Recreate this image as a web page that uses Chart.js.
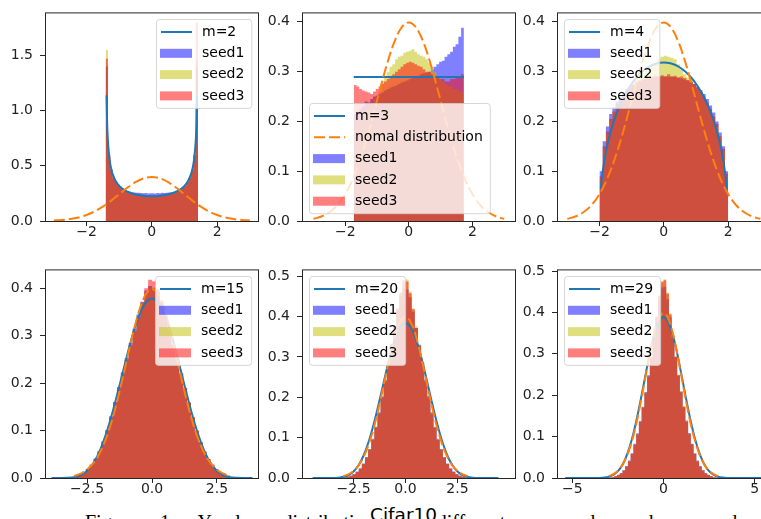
<!DOCTYPE html>
<html>
<head>
<meta charset="utf-8">
<script src="https://cdn.jsdelivr.net/npm/chart.js@4.4.0/dist/chart.umd.min.js"></script>
<style>
html, body { margin: 0; padding: 0; background: #fff; }
body { width: 761px; height: 519px; overflow: hidden; position: relative; }
canvas.panel { position: absolute; }
#caption { position: absolute; left: 85px; top: 512px; width: 665px; font: 20px "Liberation Serif", serif; line-height: 20px; white-space: nowrap; text-align: justify; text-align-last: justify; color: #000; }
#title { position: absolute; left: 366px; top: 506px; font: 18.5px "DejaVu Sans", sans-serif; line-height: 18.5px; background: #fff; padding: 0 4px; color: #000; }
</style>
</head>
<body>
<div id="caption">Figure 1: Y-value distribution of different m and random seeds.</div>
<div id="title">Cifar10</div>
<script>
// normal distribution (dashed orange, same in every panel)
const normX = [-3, -2.75, -2.5, -2.25, -2, -1.75, -1.5, -1.25, -1, -0.75, -0.5, -0.25, 0, 0.25, 0.5, 0.75, 1, 1.25, 1.5, 1.75, 2, 2.25, 2.5, 2.75, 3];
const normY = [0.0044, 0.0091, 0.0175, 0.0317, 0.0540, 0.0863, 0.1295, 0.1826, 0.2420, 0.3011, 0.3521, 0.3867, 0.3989, 0.3867, 0.3521, 0.3011, 0.2420, 0.1826, 0.1295, 0.0863, 0.0540, 0.0317, 0.0175, 0.0091, 0.0044];

// m curves
const m2X = [-1.386, -1.37, -1.35, -1.3, -1.25, -1.2, -1.1, -1.0, -0.9, -0.8, -0.6, -0.4, -0.2, 0, 0.2, 0.4, 0.6, 0.8, 0.9, 1.0, 1.1, 1.2, 1.25, 1.3, 1.35, 1.37, 1.386];
const m2Y = [1.14, 0.907, 0.755, 0.572, 0.481, 0.425, 0.358, 0.318, 0.292, 0.273, 0.249, 0.235, 0.227, 0.225, 0.227, 0.235, 0.249, 0.273, 0.292, 0.318, 0.358, 0.425, 0.481, 0.572, 0.755, 0.907, 1.14];
const m3X = [-1.732, 1.732];
const m3Y = [0.289, 0.289];
const m4X = [-1.96, -1.9, -1.8, -1.7, -1.6, -1.5, -1.4, -1.2, -1.0, -0.8, -0.6, -0.4, -0.2, 0, 0.2, 0.4, 0.6, 0.8, 1.0, 1.2, 1.4, 1.5, 1.6, 1.7, 1.8, 1.9, 1.96];
const m4Y = [0.064, 0.0994, 0.1388, 0.1677, 0.191, 0.2105, 0.2273, 0.2546, 0.2757, 0.2917, 0.3037, 0.3119, 0.3167, 0.3183, 0.3167, 0.3119, 0.3037, 0.2917, 0.2757, 0.2546, 0.2273, 0.2105, 0.191, 0.1677, 0.1388, 0.0994, 0.064];
const m15X = [-3.87, -3.75, -3.5, -3.25, -3, -2.75, -2.5, -2.25, -2, -1.75, -1.5, -1.25, -1, -0.75, -0.5, -0.25, 0, 0.25, 0.5, 0.75, 1, 1.25, 1.5, 1.75, 2, 2.25, 2.5, 2.75, 3, 3.25, 3.5, 3.75, 3.87];
const m15Y = [0, 0, 0, 0.0003, 0.0016, 0.0056, 0.0149, 0.0320, 0.0589, 0.0962, 0.1428, 0.1957, 0.2503, 0.3010, 0.3423, 0.3692, 0.3786, 0.3692, 0.3423, 0.3010, 0.2503, 0.1957, 0.1428, 0.0962, 0.0589, 0.0320, 0.0149, 0.0056, 0.0016, 0.0003, 0, 0, 0];
const m20X = [-4.47, -4, -3.75, -3.5, -3.25, -3, -2.75, -2.5, -2.25, -2, -1.75, -1.5, -1.25, -1, -0.75, -0.5, -0.25, 0, 0.25, 0.5, 0.75, 1, 1.25, 1.5, 1.75, 2, 2.25, 2.5, 2.75, 3, 3.25, 3.5, 3.75, 4, 4.47];
const m20Y = [0, 0, 0, 0.0001, 0.0007, 0.0024, 0.0068, 0.0159, 0.0321, 0.0576, 0.0934, 0.1392, 0.1922, 0.2482, 0.3012, 0.3449, 0.3737, 0.3838, 0.3737, 0.3449, 0.3012, 0.2482, 0.1922, 0.1392, 0.0934, 0.0576, 0.0321, 0.0159, 0.0068, 0.0024, 0.0007, 0.0001, 0, 0, 0];
const m29X = [-5.39, -4.5, -4, -3.75, -3.5, -3.25, -3, -2.75, -2.5, -2.25, -2, -1.75, -1.5, -1.25, -1, -0.75, -0.5, -0.25, 0, 0.25, 0.5, 0.75, 1, 1.25, 1.5, 1.75, 2, 2.25, 2.5, 2.75, 3, 3.25, 3.5, 3.75, 4, 4.5, 5.39];
const m29Y = [0, 0, 0, 0.0001, 0.0003, 0.0011, 0.0031, 0.0077, 0.0166, 0.0321, 0.0564, 0.0910, 0.1360, 0.1891, 0.2462, 0.3012, 0.3471, 0.3778, 0.3885, 0.3778, 0.3471, 0.3012, 0.2462, 0.1891, 0.1360, 0.0910, 0.0564, 0.0321, 0.0166, 0.0077, 0.0031, 0.0011, 0.0003, 0.0001, 0, 0, 0];

// histogram ranges [lo, hi] and bar heights per seed
const range1 = [-1.414, 1.414];
const h1s1 = [1.40, 0.59, 0.47, 0.40, 0.36, 0.33, 0.31, 0.295, 0.28, 0.272, 0.265, 0.26, 0.258, 0.255, 0.256, 0.253, 0.252, 0.254, 0.25, 0.251, 0.252, 0.25, 0.253, 0.252, 0.255, 0.254, 0.256, 0.258, 0.26, 0.263, 0.268, 0.275, 0.285, 0.30, 0.32, 0.35, 0.39, 0.46, 0.59, 1.38];
const h1s2 = [1.55, 0.61, 0.47, 0.40, 0.355, 0.325, 0.305, 0.29, 0.275, 0.265, 0.255, 0.25, 0.245, 0.24, 0.236, 0.233, 0.231, 0.229, 0.228, 0.227, 0.227, 0.228, 0.229, 0.231, 0.233, 0.236, 0.24, 0.245, 0.25, 0.255, 0.265, 0.275, 0.29, 0.305, 0.325, 0.355, 0.40, 0.47, 0.61, 1.45];
const h1s3 = [1.47, 0.60, 0.46, 0.39, 0.35, 0.32, 0.30, 0.282, 0.27, 0.26, 0.25, 0.245, 0.24, 0.235, 0.23, 0.228, 0.226, 0.224, 0.223, 0.222, 0.222, 0.223, 0.224, 0.226, 0.228, 0.23, 0.235, 0.24, 0.245, 0.25, 0.26, 0.27, 0.28, 0.30, 0.32, 0.35, 0.39, 0.46, 0.60, 1.80];

const range2 = [-1.732, 1.732];
const h2s1 = [0.215, 0.22, 0.225, 0.23, 0.24, 0.238, 0.245, 0.25, 0.252, 0.255, 0.258, 0.262, 0.265, 0.268, 0.27, 0.272, 0.275, 0.278, 0.28, 0.282, 0.285, 0.288, 0.29, 0.292, 0.295, 0.297, 0.298, 0.30, 0.305, 0.31, 0.315, 0.32, 0.322, 0.33, 0.335, 0.34, 0.35, 0.355, 0.37, 0.388];
const h2s2 = [0.20, 0.205, 0.21, 0.22, 0.225, 0.23, 0.235, 0.245, 0.25, 0.26, 0.28, 0.29, 0.30, 0.31, 0.315, 0.325, 0.33, 0.332, 0.338, 0.34, 0.342, 0.345, 0.34, 0.335, 0.332, 0.33, 0.325, 0.318, 0.31, 0.30, 0.29, 0.285, 0.28, 0.275, 0.27, 0.27, 0.265, 0.265, 0.26, 0.26];
const h2s3 = [0.273, 0.27, 0.265, 0.262, 0.26, 0.258, 0.255, 0.26, 0.265, 0.27, 0.275, 0.28, 0.285, 0.29, 0.295, 0.30, 0.305, 0.31, 0.315, 0.318, 0.32, 0.318, 0.315, 0.312, 0.31, 0.305, 0.30, 0.30, 0.295, 0.29, 0.29, 0.285, 0.285, 0.28, 0.28, 0.285, 0.285, 0.29, 0.29, 0.295];

const range3 = [-2, 2];
const h3s1 = [0.10, 0.16, 0.19, 0.215, 0.228, 0.24, 0.25, 0.258, 0.265, 0.27, 0.274, 0.278, 0.28, 0.283, 0.285, 0.287, 0.288, 0.29, 0.29, 0.29, 0.291, 0.29, 0.29, 0.289, 0.288, 0.286, 0.284, 0.282, 0.279, 0.275, 0.27, 0.263, 0.255, 0.245, 0.232, 0.218, 0.2, 0.178, 0.15, 0.10];
const h3s2 = [0.085, 0.145, 0.175, 0.20, 0.218, 0.232, 0.243, 0.253, 0.262, 0.27, 0.278, 0.285, 0.292, 0.298, 0.305, 0.31, 0.315, 0.32, 0.325, 0.33, 0.332, 0.33, 0.328, 0.325, 0.315, 0.305, 0.295, 0.288, 0.282, 0.275, 0.268, 0.26, 0.248, 0.236, 0.222, 0.207, 0.19, 0.168, 0.14, 0.09];
const h3s3 = [0.09, 0.15, 0.18, 0.205, 0.22, 0.235, 0.245, 0.255, 0.262, 0.268, 0.273, 0.278, 0.282, 0.285, 0.288, 0.29, 0.29, 0.292, 0.29, 0.293, 0.29, 0.295, 0.29, 0.292, 0.288, 0.29, 0.287, 0.283, 0.28, 0.275, 0.268, 0.26, 0.25, 0.238, 0.225, 0.21, 0.195, 0.17, 0.145, 0.095];

const range4 = [-3, 3];
const h4s1 = [0.005, 0.008, 0.013, 0.019, 0.028, 0.041, 0.057, 0.077, 0.101, 0.13, 0.16, 0.192, 0.223, 0.253, 0.285, 0.315, 0.345, 0.372, 0.395, 0.405, 0.40, 0.392, 0.368, 0.34, 0.31, 0.28, 0.25, 0.22, 0.19, 0.158, 0.127, 0.099, 0.075, 0.055, 0.04, 0.028, 0.019, 0.012, 0.008, 0.005];
const h4s2 = [0.006, 0.009, 0.013, 0.02, 0.029, 0.041, 0.057, 0.077, 0.10, 0.128, 0.159, 0.19, 0.22, 0.25, 0.28, 0.31, 0.34, 0.368, 0.39, 0.40, 0.402, 0.39, 0.37, 0.342, 0.312, 0.282, 0.252, 0.222, 0.191, 0.16, 0.129, 0.10, 0.076, 0.056, 0.04, 0.028, 0.019, 0.013, 0.009, 0.006];
const h4s3 = [0.005, 0.008, 0.012, 0.019, 0.028, 0.04, 0.056, 0.076, 0.10, 0.128, 0.16, 0.19, 0.22, 0.25, 0.28, 0.31, 0.34, 0.37, 0.40, 0.418, 0.415, 0.398, 0.372, 0.342, 0.312, 0.281, 0.251, 0.221, 0.19, 0.159, 0.128, 0.10, 0.076, 0.056, 0.04, 0.028, 0.019, 0.012, 0.008, 0.005];

const range5 = [-3, 3];
const h5s1 = [0.001, 0.003, 0.006, 0.01, 0.016, 0.024, 0.036, 0.052, 0.072, 0.097, 0.127, 0.163, 0.202, 0.243, 0.288, 0.332, 0.375, 0.415, 0.45, 0.47, 0.468, 0.448, 0.412, 0.372, 0.33, 0.287, 0.244, 0.203, 0.163, 0.127, 0.097, 0.072, 0.052, 0.036, 0.024, 0.016, 0.01, 0.006, 0.003, 0.001];
const h5s2 = [0.001, 0.003, 0.005, 0.009, 0.015, 0.023, 0.035, 0.05, 0.071, 0.096, 0.126, 0.161, 0.20, 0.241, 0.285, 0.33, 0.376, 0.42, 0.458, 0.485, 0.492, 0.462, 0.42, 0.376, 0.33, 0.285, 0.242, 0.202, 0.162, 0.126, 0.096, 0.071, 0.051, 0.035, 0.023, 0.015, 0.009, 0.005, 0.003, 0.001];
const h5s3 = [0.001, 0.003, 0.005, 0.009, 0.015, 0.023, 0.035, 0.05, 0.07, 0.095, 0.125, 0.16, 0.20, 0.24, 0.285, 0.33, 0.375, 0.42, 0.46, 0.49, 0.487, 0.458, 0.418, 0.372, 0.328, 0.283, 0.24, 0.20, 0.16, 0.124, 0.094, 0.07, 0.05, 0.035, 0.023, 0.015, 0.009, 0.005, 0.003, 0.001];

const range6 = [-3, 3];
const h6s1 = [0.001, 0.002, 0.005, 0.008, 0.012, 0.019, 0.029, 0.042, 0.06, 0.083, 0.108, 0.138, 0.172, 0.208, 0.248, 0.292, 0.338, 0.385, 0.43, 0.46, 0.462, 0.432, 0.388, 0.34, 0.293, 0.249, 0.209, 0.173, 0.139, 0.109, 0.083, 0.06, 0.042, 0.029, 0.019, 0.012, 0.008, 0.005, 0.002, 0.001];
const h6s2 = [0.001, 0.002, 0.004, 0.007, 0.011, 0.018, 0.027, 0.04, 0.058, 0.08, 0.106, 0.136, 0.17, 0.206, 0.246, 0.291, 0.34, 0.39, 0.442, 0.472, 0.48, 0.448, 0.398, 0.345, 0.295, 0.25, 0.21, 0.173, 0.138, 0.107, 0.081, 0.059, 0.041, 0.028, 0.018, 0.011, 0.007, 0.004, 0.002, 0.001];
const h6s3 = [0.001, 0.002, 0.004, 0.007, 0.011, 0.018, 0.027, 0.04, 0.058, 0.08, 0.105, 0.135, 0.17, 0.205, 0.245, 0.29, 0.34, 0.39, 0.44, 0.475, 0.478, 0.445, 0.395, 0.342, 0.292, 0.247, 0.207, 0.171, 0.136, 0.106, 0.081, 0.058, 0.04, 0.027, 0.018, 0.011, 0.007, 0.004, 0.002, 0.001];

// axis ticks
const xTicksA = [-2, 0, 2];
const xTicksB = [-2.5, 0, 2.5];
const xTicksC = [-5, 0, 5];
const yTicks1 = [0, 0.5, 1.0, 1.5];
const yTicks04 = [0, 0.1, 0.2, 0.3, 0.4];
const yTicks05 = [0, 0.1, 0.2, 0.3, 0.4, 0.5];

const mLabels = ['m=2', 'm=3', 'm=4', 'm=15', 'm=20', 'm=29'];
const seedLabels = ['seed1', 'seed2', 'seed3'];
const normLabel = 'nomal distribution';

const BLUE = '#1f77b4', ORANGE = '#ff7f0e';
const SEED_COLORS = ['rgba(0,0,255,0.5)', 'rgba(191,191,0,0.5)', 'rgba(255,0,0,0.5)'];

const panels = [
  {box: [45, 7, 213, 214], xr: [-3.27, 3.25], yr: [0, 1.89], xt: xTicksA, xd: 0, yt: yTicks1,
   cx: m2X, cy: m2Y, range: range1, h: [h1s1, h1s2, h1s3], leg: 'ur', showNorm: false},
  {box: [302, 7, 213, 214], xr: [-3.36, 3.34], yr: [0, 0.419], xt: xTicksA, xd: 0, yt: yTicks04,
   cx: m3X, cy: m3Y, range: range2, h: [h2s1, h2s2, h2s3], leg: 'll', showNorm: true},
  {box: [557, 7, 213, 214], xr: [-3.32, 3.3], yr: [0, 0.419], xt: xTicksA, xd: 0, yt: yTicks04,
   cx: m4X, cy: m4Y, range: range3, h: [h3s1, h3s2, h3s3], leg: 'ul', showNorm: false},
  {box: [45, 264, 213, 214], xr: [-4.12, 4.08], yr: [0, 0.44], xt: xTicksB, xd: 1, yt: yTicks04,
   cx: m15X, cy: m15Y, range: range4, h: [h4s1, h4s2, h4s3], leg: 'ur', showNorm: false},
  {box: [302, 264, 213, 214], xr: [-4.98, 5.27], yr: [0, 0.517], xt: xTicksB, xd: 1, yt: yTicks05,
   cx: m20X, cy: m20Y, range: range5, h: [h5s1, h5s2, h5s3], leg: 'ul', showNorm: false},
  {box: [557, 264, 213, 214], xr: [-5.84, 5.84], yr: [0, 0.504], xt: xTicksC, xd: 0, yt: yTicks05,
   cx: m29X, cy: m29Y, range: range6, h: [h6s1, h6s2, h6s3], leg: 'ul', showNorm: false}
];

function fmt(v, d) {
  return Number(v).toFixed(d).replace('-', '\u2212');
}

// each height holds from its left edge to the next edge (step-before)
function histPoints(range, heights) {
  const w = (range[1] - range[0]) / heights.length;
  const pts = heights.map((h, i) => ({x: range[0] + i * w, y: h}));
  pts.push({x: range[1], y: heights[heights.length - 1]});
  return pts;
}

function curvePoints(xs, ys) {
  return xs.map((x, i) => ({x: x, y: ys[i]}));
}

// frame + matplotlib style legend drawn inside the axes
const framePlugin = {
  id: 'mplFrame',
  afterDatasetsDraw(chart, args, opts) {
    const ctx = chart.ctx, a = chart.chartArea;
    ctx.save();
    ctx.strokeStyle = '#262626';
    ctx.lineWidth = 1;
    ctx.strokeRect(a.left + 0.5, a.top + 0.5, a.right - a.left, a.bottom - a.top);

    const items = opts.items;
    ctx.font = '14px "DejaVu Sans"';
    const tw = Math.max(...items.map(it => ctx.measureText(it.label).width));
    const w = 46 + tw + 7, h = 13 + (items.length - 1) * 21.3 + 12;
    let x = opts.corner[1] === 'r' ? a.right - 7 - w : a.left + 7;
    let y = opts.corner[0] === 'l' ? a.bottom - 8 - h : a.top + 7;
    x = Math.round(x); y = Math.round(y);
    ctx.beginPath();
    ctx.roundRect(x + 0.5, y + 0.5, w, h, 3);
    ctx.fillStyle = 'rgba(255,255,255,0.8)';
    ctx.fill();
    ctx.strokeStyle = 'rgba(204,204,204,0.8)';
    ctx.stroke();
    items.forEach((it, i) => {
      const cy = y + 13 + i * 21.3;
      if (it.kind === 'patch') {
        ctx.fillStyle = it.color;
        ctx.fillRect(x + 4, cy - 4.5, 32, 9);
      } else {
        ctx.strokeStyle = it.color;
        ctx.lineWidth = 2;
        ctx.setLineDash(it.dash || []);
        ctx.beginPath();
        ctx.moveTo(x + 5, cy);
        ctx.lineTo(x + 36, cy);
        ctx.stroke();
        ctx.setLineDash([]);
      }
      ctx.fillStyle = '#000';
      ctx.textBaseline = 'middle';
      ctx.textAlign = 'left';
      ctx.fillText(it.label, x + 46, cy);
    });
    ctx.restore();
  }
};

panels.forEach((p, k) => {
  const c = document.createElement('canvas');
  c.className = 'panel';
  c.width = p.box[2] + 60;
  c.height = p.box[3] + 40;
  c.style.left = (p.box[0] - 50) + 'px';
  c.style.top = (p.box[1] - 10) + 'px';
  document.body.appendChild(c);

  const legendItems = [{kind: 'line', color: BLUE, label: mLabels[k]}];
  if (p.showNorm) legendItems.push({kind: 'line', color: ORANGE, dash: [11, 4], label: normLabel});
  seedLabels.forEach((s, i) => legendItems.push({kind: 'patch', color: SEED_COLORS[i], label: s}));

  const tickFont = {family: 'DejaVu Sans', size: 14};
  const grid = {display: true, drawOnChartArea: false, drawTicks: true, tickLength: 5, tickWidth: 1, tickColor: '#262626'};

  new Chart(c, {
    type: 'line',
    data: {
      datasets: [
        {data: curvePoints(normX, normY), borderColor: ORANGE, borderWidth: 2, borderDash: [11, 4],
         cubicInterpolationMode: 'monotone', fill: false, order: 0},
        {data: curvePoints(p.cx, p.cy), borderColor: BLUE, borderWidth: 2,
         cubicInterpolationMode: 'monotone', fill: false, order: 1},
        {data: histPoints(p.range, p.h[2]), stepped: 'before', fill: 'origin', backgroundColor: SEED_COLORS[2],
         borderColor: 'rgba(0,0,0,0)', borderWidth: 0, order: 2},
        {data: histPoints(p.range, p.h[1]), stepped: 'before', fill: 'origin', backgroundColor: SEED_COLORS[1],
         borderColor: 'rgba(0,0,0,0)', borderWidth: 0, order: 3},
        {data: histPoints(p.range, p.h[0]), stepped: 'before', fill: 'origin', backgroundColor: SEED_COLORS[0],
         borderColor: 'rgba(0,0,0,0)', borderWidth: 0, order: 4}
      ]
    },
    options: {
      responsive: false,
      animation: false,
      devicePixelRatio: 1,
      layout: {padding: {top: 10, right: 10, left: 0, bottom: 0}},
      elements: {point: {radius: 0}},
      plugins: {
        legend: {display: false},
        tooltip: {enabled: false},
        mplFrame: {items: legendItems, corner: p.leg}
      },
      scales: {
        x: {
          type: 'linear', min: p.xr[0], max: p.xr[1],
          afterBuildTicks: s => { s.ticks = p.xt.map(v => ({value: v})); },
          afterFit: s => { s.height = 30; },
          grid: grid,
          border: {display: false},
          ticks: {font: tickFont, color: '#222', padding: -2, maxRotation: 0, autoSkip: false,
                  callback: v => fmt(v, p.xd)}
        },
        y: {
          type: 'linear', min: p.yr[0], max: p.yr[1],
          afterBuildTicks: s => { s.ticks = p.yt.map(v => ({value: v})); },
          afterFit: s => { s.width = 50; },
          grid: grid,
          border: {display: false},
          ticks: {font: tickFont, color: '#222', padding: 7, autoSkip: false,
                  callback: v => fmt(v, 1)}
        }
      }
    },
    plugins: [framePlugin]
  });
});
</script>
</body>
</html>
